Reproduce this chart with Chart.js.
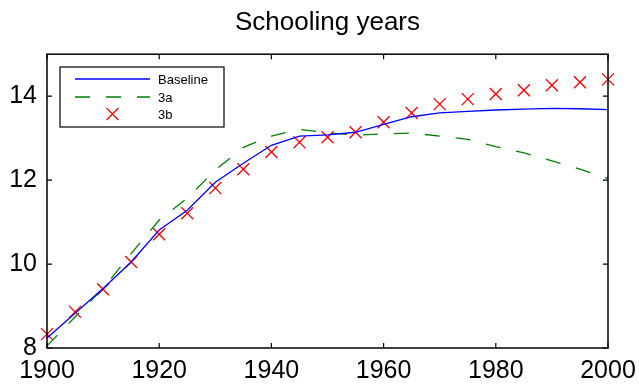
<!DOCTYPE html>
<html>
<head>
<meta charset="utf-8">
<script src="https://cdn.jsdelivr.net/npm/chart.js@4/dist/chart.umd.min.js"></script>
<style>
html,body{margin:0;padding:0;background:#fff;}
#wrap{width:639px;height:387px;}
</style>
</head>
<body>
<div id="wrap"><canvas id="c" width="639" height="387"></canvas></div>
<script>
const years = [1900,1905,1910,1915,1920,1925,1930,1935,1940,1945,1950,1955,1960,1965,1970,1975,1980,1985,1990,1995,2000];
const baseline = [8.24,8.83,9.42,10.05,10.81,11.28,11.95,12.40,12.83,13.05,13.08,13.14,13.33,13.51,13.60,13.64,13.67,13.69,13.71,13.70,13.68];
const scenario3a = [8.05,8.74,9.42,10.25,11.05,11.57,12.24,12.78,13.05,13.21,13.13,13.07,13.10,13.12,13.05,12.97,12.80,12.65,12.46,12.26,12.04];
const scenario3b = [8.33,8.86,9.40,10.05,10.71,11.21,11.81,12.26,12.67,12.90,13.02,13.14,13.38,13.60,13.81,13.93,14.05,14.14,14.26,14.33,14.40];
const xTicks = [1900,1920,1940,1960,1980,2000];
const yTicks = [8,10,12,14];
const seriesNames = ['Baseline','3a','3b'];
const titleText = 'Schooling years';

const FONT = 'Arial, "Liberation Sans", Helvetica, sans-serif';

function pts(ys){ return years.map((x,i)=>({x:x,y:ys[i]})); }

const framePlugin = {
  id:'frame',
  afterLayout(chart){
    const t = chart.titleBlock;
    if (t) { t.left = chart.chartArea.left; t.right = chart.chartArea.right; }
  },
  afterDatasetsDraw(chart){
    const ctx = chart.ctx, a = chart.chartArea;
    const xs = chart.scales.x, ys = chart.scales.y;
    ctx.save();
    ctx.strokeStyle = '#000';
    ctx.lineWidth = 1.5;
    ctx.strokeRect(a.left, a.top, a.right - a.left, a.bottom - a.top);
    ctx.lineWidth = 1.2;
    const L = 5;
    ctx.beginPath();
    xTicks.forEach(v=>{
      const p = xs.getPixelForValue(v);
      ctx.moveTo(p, a.bottom); ctx.lineTo(p, a.bottom - L);
      ctx.moveTo(p, a.top); ctx.lineTo(p, a.top + L);
    });
    yTicks.forEach(v=>{
      const p = ys.getPixelForValue(v);
      ctx.moveTo(a.left, p); ctx.lineTo(a.left + L, p);
      ctx.moveTo(a.right, p); ctx.lineTo(a.right - L, p);
    });
    ctx.stroke();

    // legend
    const bx = 60, by = 67, bw = 164, bh = 60;
    ctx.fillStyle = '#fff';
    ctx.fillRect(bx, by, bw, bh);
    ctx.lineWidth = 1.2;
    ctx.strokeStyle = '#000';
    ctx.strokeRect(bx, by, bw, bh);
    const rows = [79, 97, 114];
    const ds = chart.data.datasets;
    ctx.font = '13px ' + FONT;
    ctx.textBaseline = 'middle';
    ctx.textAlign = 'left';
    ds.forEach((d, i)=>{
      const y = rows[i];
      if (d.showLine !== false) {
        ctx.save();
        ctx.strokeStyle = d.borderColor;
        ctx.lineWidth = d.borderWidth;
        ctx.setLineDash(d.borderDash || []);
        ctx.beginPath(); ctx.moveTo(75, y); ctx.lineTo(150, y); ctx.stroke();
        ctx.restore();
      } else {
        ctx.save();
        ctx.strokeStyle = d.pointBorderColor;
        ctx.lineWidth = d.pointBorderWidth;
        const h = 6;
        ctx.beginPath();
        ctx.moveTo(112.5 - h, y - h); ctx.lineTo(112.5 + h, y + h);
        ctx.moveTo(112.5 - h, y + h); ctx.lineTo(112.5 + h, y - h);
        ctx.stroke();
        ctx.restore();
      }
      ctx.fillStyle = '#000';
      ctx.fillText(d.label, 158, y + 1);
    });
    ctx.restore();
  }
};

new Chart(document.getElementById('c'), {
  type:'line',
  data:{
    datasets:[
      {label:seriesNames[0], data:pts(baseline), borderColor:'#0000ff', borderWidth:1.3, pointRadius:0, fill:false, tension:0, clip:false},
      {label:seriesNames[1], data:pts(scenario3a), borderColor:'#008000', borderWidth:1.3, borderDash:[15,16], pointRadius:0, fill:false, tension:0, clip:false},
      {label:seriesNames[2], data:pts(scenario3b), showLine:false, pointStyle:'crossRot', pointRadius:8.5, pointBorderColor:'#ff0000', pointBackgroundColor:'#ff0000', pointBorderWidth:1.3, borderColor:'#ff0000', clip:false}
    ]
  },
  options:{
    responsive:false,
    animation:false,
    events:[],
    layout:{padding:{left:0,right:31,top:0,bottom:0}},
    plugins:{
      legend:{display:false},
      tooltip:{enabled:false},
      title:{display:true, text:titleText, color:'#000', font:{family:FONT, size:26, weight:'normal', lineHeight:1.2}, padding:{top:7,bottom:16}}
    },
    scales:{
      x:{
        type:'linear', min:1900, max:2000,
        afterBuildTicks(s){ s.ticks = xTicks.map(v=>({value:v})); },
        afterFit(s){ s.height = 39; s.paddingLeft = 0; s.paddingRight = 0; },
        grid:{display:false, drawTicks:false},
        border:{display:false},
        ticks:{color:'#000', font:{family:FONT, size:25}, padding:8, maxRotation:0, autoSkip:false, callback:(v)=>String(v)}
      },
      y:{
        type:'linear', min:8, max:15,
        afterBuildTicks(s){ s.ticks = yTicks.map(v=>({value:v})); },
        afterFit(s){ s.width = 47; s.paddingTop = 0; s.paddingBottom = 0; },
        grid:{display:false, drawTicks:false},
        border:{display:false},
        ticks:{color:'#000', font:{family:FONT, size:25}, padding:10, autoSkip:false, callback:(v)=>String(v)}
      }
    }
  },
  plugins:[framePlugin]
});
</script>
</body>
</html>
